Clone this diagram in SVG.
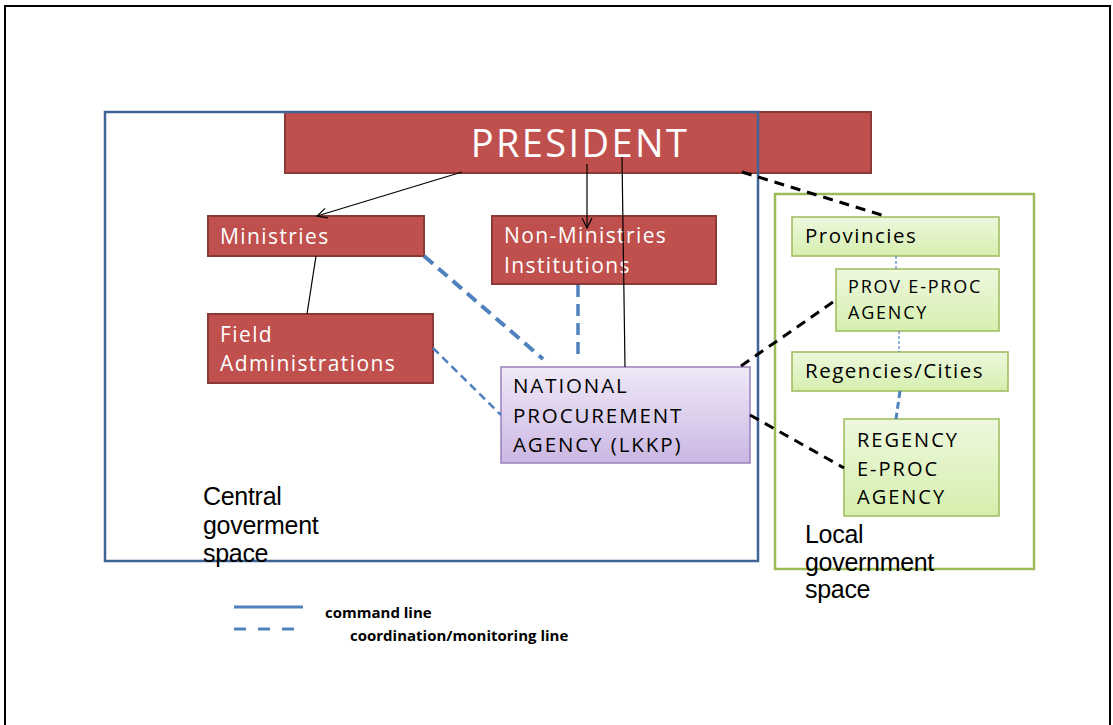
<svg xmlns="http://www.w3.org/2000/svg" width="1113" height="725" viewBox="0 0 1113 725">
<defs>
<linearGradient id="gPurple" x1="0" y1="0" x2="0" y2="1">
<stop offset="0" stop-color="#EFE9F7"/>
<stop offset="1" stop-color="#CBB7E3"/>
</linearGradient>
<linearGradient id="gGreen" x1="0" y1="0" x2="0" y2="1">
<stop offset="0" stop-color="#EEF8DE"/>
<stop offset="1" stop-color="#D5EFAE"/>
</linearGradient>
<marker id="arr" viewBox="0 0 12 12" refX="11" refY="6" markerWidth="12" markerHeight="12" markerUnits="userSpaceOnUse" orient="auto">
<path d="M1,1 L11,6 L1,11" fill="none" stroke="#000" stroke-width="1.2"/>
</marker>
</defs>
<style>
.red{fill:#C0504D;stroke:#8C3A38;stroke-width:2}
.grn{fill:url(#gGreen);stroke:#9BBB59;stroke-width:1.5}
.wt{fill:#fff;font-family:"Open Sans",sans-serif;font-size:21px;letter-spacing:1.4px}
.bk{fill:#000;font-family:"Open Sans",sans-serif}
.lbl{fill:#000;font-family:"Liberation Sans",Arial,sans-serif;font-size:25px;letter-spacing:-0.3px}
.cmd{stroke:#000;stroke-width:1.2;fill:none}
.bd{stroke:#4F81BD;fill:none}
.kd{stroke:#000;stroke-width:3;stroke-dasharray:10 7;fill:none}
.leg{fill:#000;font-family:"Open Sans",sans-serif;font-weight:bold;font-size:15px}
</style>
<rect x="5" y="6" width="1105" height="730" fill="#fff" stroke="#000" stroke-width="2"/>

<g id="president">
<rect class="red" x="285" y="112" width="586" height="61"/>
<text x="580" y="157" fill="#fff" font-family="'Open Sans',sans-serif" font-size="38" letter-spacing="2.4" text-anchor="middle">PRESIDENT</text>
</g>

<g id="central-space">
<rect x="105" y="112" width="653" height="449" fill="none" stroke="#3F6597" stroke-width="2.5"/>
<text class="lbl"><tspan x="203" y="505">Central</tspan><tspan x="203" y="534">goverment</tspan><tspan x="203" y="562">space</tspan></text>
</g>

<g id="local-space">
<rect x="775" y="194" width="259" height="375" fill="none" stroke="#9BBB59" stroke-width="2.5"/>
<text class="lbl"><tspan x="805" y="543">Local</tspan><tspan x="805" y="571">government</tspan><tspan x="805" y="598">space</tspan></text>
</g>

<g id="ministries">
<rect class="red" x="208" y="216" width="216" height="40"/>
<text class="wt" x="220" y="244">Ministries</text>
</g>

<g id="field-admin">
<rect class="red" x="208" y="314" width="225" height="69"/>
<text class="wt"><tspan x="220" y="342">Field</tspan><tspan x="220" y="371">Administrations</tspan></text>
</g>

<g id="non-ministries">
<rect class="red" x="492" y="216" width="224" height="68"/>
<text class="wt"><tspan x="504" y="243">Non-Ministries</tspan><tspan x="504" y="273">Institutions</tspan></text>
</g>

<g id="npa">
<rect x="501" y="367" width="249" height="96" fill="url(#gPurple)" stroke="#9A80BC" stroke-width="1.5"/>
<text class="bk" font-size="20.5" letter-spacing="1.9"><tspan x="513" y="393">NATIONAL</tspan><tspan x="513" y="423">PROCUREMENT</tspan><tspan x="513" y="452">AGENCY (LKKP)</tspan></text>
</g>

<g id="provincies">
<rect class="grn" x="792" y="217" width="207" height="39"/>
<text class="bk" x="805" y="243" font-size="20.5" letter-spacing="1.5">Provincies</text>
</g>

<g id="prov-eproc">
<rect class="grn" x="836" y="269" width="163" height="62"/>
<text class="bk" font-size="18" letter-spacing="1.8"><tspan x="848" y="293">PROV E-PROC</tspan><tspan x="848" y="319">AGENCY</tspan></text>
</g>

<g id="regencies">
<rect class="grn" x="792" y="352" width="216" height="39"/>
<text class="bk" x="805" y="378" font-size="20.5" letter-spacing="1.5">Regencies/Cities</text>
</g>

<g id="regency-eproc">
<rect class="grn" x="844" y="419" width="155" height="97"/>
<text class="bk" font-size="20" letter-spacing="2"><tspan x="857" y="447">REGENCY</tspan><tspan x="857" y="476">E-PROC</tspan><tspan x="857" y="504">AGENCY</tspan></text>
</g>

<g id="connectors">
<line class="cmd" x1="462" y1="172" x2="317" y2="216" marker-end="url(#arr)"/>
<line class="cmd" x1="587" y1="164" x2="587" y2="228" marker-end="url(#arr)"/>
<line class="cmd" x1="622" y1="157" x2="625" y2="367"/>
<line class="cmd" x1="316" y1="256" x2="307" y2="314"/>
<line class="bd" x1="424" y1="256" x2="543" y2="359" stroke-width="4" stroke-dasharray="12 7"/>
<line class="bd" x1="578" y1="285" x2="578" y2="359" stroke-width="3.5" stroke-dasharray="12 7"/>
<line class="bd" x1="433" y1="348" x2="501" y2="415" stroke-width="2.5" stroke-dasharray="8 5"/>
<line class="kd" x1="742" y1="172" x2="888" y2="217"/>
<line class="kd" x1="741" y1="366" x2="836" y2="300"/>
<line class="kd" x1="750" y1="415" x2="844" y2="468"/>
<line class="bd" x1="896" y1="256" x2="896" y2="269" stroke-width="1.2" stroke-dasharray="3 2"/>
<line class="bd" x1="899" y1="331" x2="899" y2="352" stroke-width="1.2" stroke-dasharray="3 2"/>
<line class="bd" x1="900" y1="391" x2="896" y2="419" stroke-width="3" stroke-dasharray="7 4"/>
</g>

<g id="legend">
<line x1="234" y1="607" x2="303" y2="607" stroke="#4F81BD" stroke-width="3"/>
<line x1="234" y1="629" x2="297" y2="629" stroke="#4F81BD" stroke-width="3" stroke-dasharray="12 12"/>
<text class="leg" x="325" y="618">command line</text>
<text class="leg" x="350" y="641">coordination/monitoring line</text>
</g>
</svg>
